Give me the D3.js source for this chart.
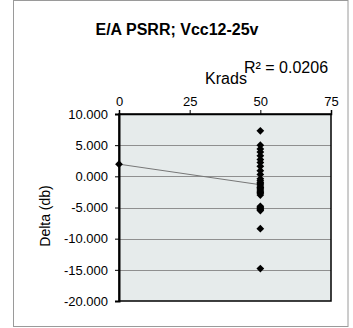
<!DOCTYPE html>
<html>
<head>
<meta charset="utf-8">
<script src="https://cdn.jsdelivr.net/npm/d3@7"></script>
<style>
  body { margin: 0; background: #fff; }
  svg { display: block; font-family: 'Liberation Sans', Arial, sans-serif; }
</style>
</head>
<body>
<svg width="353" height="328"></svg>
<script>
// data
let krads = [0, 50, 50, 50, 50, 50, 50, 50, 50, 50, 50, 50, 50, 50, 50, 50, 50, 50, 50, 50, 50, 50, 50,
  50, 50, 50, 50, 50, 50, 50, 50]
let delta = [1.95, 7.3, 5.0, 4.4, 3.9, 3.3, 2.7, 2.2, 1.6, 0.9, 0.3, -0.4, -0.7, -1.0, -1.2, -1.4, -1.7, -1.8,
  -2.0, -2.2, -2.4, -2.6, -2.7, -3.0, -4.8, -5.0, -5.2, -5.3, -5.5, -8.4, -14.8]
let xTicks = [0, 25, 50, 75]
let yTicks = [10, 5, 0, -5, -10, -15, -20]
let title = 'E/A PSRR; Vcc12-25v'
let rText = 'R² = 0.0206'

let m = { left: 119, top: 114, right: 331, bottom: 301 }

let svg = d3.select('svg')

svg.append('rect')
  .attr('x', 13.5).attr('y', 0.5)
  .attr('width', 334.5).attr('height', 326)
  .attr('fill', '#fff').attr('stroke', '#9a9a9a')

let x = d3.scaleLinear().domain([0, 75]).range([m.left, m.right])
let y = d3.scaleLinear().domain([-20, 10]).range([m.bottom, m.top])

svg.append('rect')
  .attr('x', m.left).attr('y', m.top)
  .attr('width', m.right - m.left).attr('height', m.bottom - m.top)
  .attr('fill', '#e6ebeb')

// gridlines
svg.append('g')
  .selectAll('line')
  .data(yTicks.filter(d => d > -20 && d < 10))
  .enter()
  .append('line')
  .attr('x1', m.left).attr('x2', m.right)
  .attr('y1', d => Math.round(y(d)) + 0.5).attr('y2', d => Math.round(y(d)) + 0.5)
  .attr('stroke', '#8f8f8f').attr('stroke-width', 1)

// plot border
svg.append('rect')
  .attr('x', m.left).attr('y', m.top)
  .attr('width', m.right - m.left).attr('height', m.bottom - m.top)
  .attr('fill', 'none').attr('stroke', '#000').attr('stroke-width', 1.5)

let topAxis = d3.axisTop(x).tickValues(xTicks).tickSize(4).tickPadding(4)
let gx = svg.append('g')
  .attr('transform', 'translate(0,' + m.top + ')')
  .call(topAxis)
gx.select('.domain').attr('stroke', '#000').attr('stroke-width', 1.5)
gx.selectAll('.tick line').attr('stroke', '#000')
gx.selectAll('.tick text').attr('font-size', 13).attr('fill', '#000')
  .attr('font-family', "'Liberation Sans', Arial, sans-serif")

let leftAxis = d3.axisLeft(y).tickValues(yTicks).tickSize(4).tickPadding(7)
let gy = svg.append('g')
  .attr('transform', 'translate(' + m.left + ',0)')
  .call(leftAxis)
gy.select('.domain').attr('stroke', '#000').attr('stroke-width', 2)
gy.selectAll('.tick line').attr('stroke', '#000')
gy.selectAll('.tick text').attr('font-size', 13).attr('fill', '#000')
  .attr('font-family', "'Liberation Sans', Arial, sans-serif")
  .text(d => d3.format('.3f')(d).replace('−', '-'))

// trend line
let n = krads.length
let mx = d3.mean(krads), my = d3.mean(delta)
let sxy = 0, sxx = 0
for (let i = 0; i < n; i++) {
  sxy += (krads[i] - mx) * (delta[i] - my)
  sxx += (krads[i] - mx) * (krads[i] - mx)
}
let slope = sxy / sxx
let icpt = my - slope * mx
let x0 = d3.min(krads), x1 = d3.max(krads)
svg.append('line')
  .attr('x1', x(x0)).attr('y1', y(icpt + slope * x0))
  .attr('x2', x(x1)).attr('y2', y(icpt + slope * x1))
  .attr('stroke', '#777').attr('stroke-width', 1)

// markers: square diamonds like excel
let sym = d3.symbol().type(d3.symbolSquare).size(30)
svg.append('g')
  .selectAll('path')
  .data(krads.map((k, i) => [k, delta[i]]))
  .enter()
  .append('path')
  .attr('d', sym)
  .attr('transform', d => 'translate(' + x(d[0]) + ',' + y(d[1]) + ') rotate(45)')
  .attr('fill', '#000')

svg.append('text')
  .attr('x', 177).attr('y', 35)
  .attr('text-anchor', 'middle')
  .attr('font-size', 16).attr('font-weight', 'bold')
  .text(title)

svg.append('text')
  .attr('x', 244).attr('y', 73)
  .attr('font-size', 16)
  .text(rText)

svg.append('text')
  .attr('x', 226).attr('y', 84)
  .attr('text-anchor', 'middle')
  .attr('font-size', 16)
  .text('Krads')

svg.append('text')
  .attr('transform', 'translate(50,216) rotate(-90)')
  .attr('text-anchor', 'middle')
  .attr('font-size', 14)
  .text('Delta (db)')
</script>
</body>
</html>
